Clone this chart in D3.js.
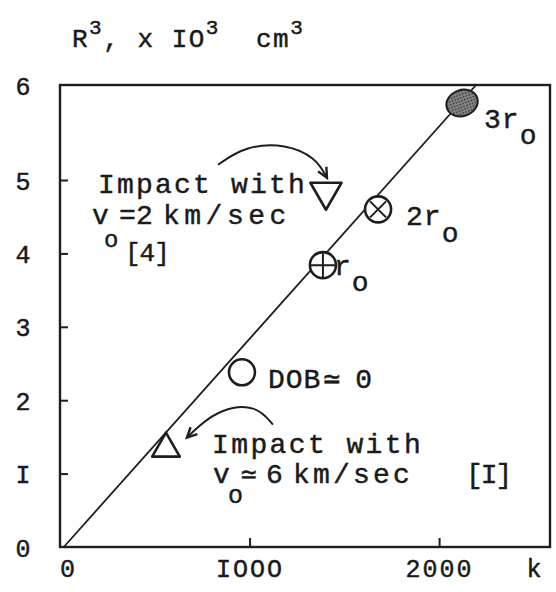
<!DOCTYPE html>
<html lang="en">
<head>
  <meta charset="UTF-8">
  <title>R3 vs k</title>
  <style>
    body { margin: 0; background: #fff; }
    text { font-family: "Liberation Mono", "DejaVu Sans Mono", monospace; fill: #1a1a1a; stroke: #1a1a1a; stroke-width: 0.45px; }
  </style>
</head>
<body>
  <script src="https://cdn.jsdelivr.net/npm/d3@7/dist/d3.min.js"></script>
  <script>
    // points (k, R^3 in 10^3 cm^3)
    let pointNames = ["impact6", "dob0", "r0", "2r0", "impact2", "3r0"];
    let kValues = [559, 960, 1387, 1678, 1403, 2121];
    let r3Values = [1.34, 2.38, 3.84, 4.60, 4.84, 5.81];
    let pointShapes = ["triangleUp", "circle", "circlePlus", "circleCross", "triangleDown", "filled"];

    // straight line through the points
    let lineK = [20, 2195];
    let lineR3 = [0, 6];

    let xTicks = [0, 1000, 2000];
    let xTickLabels = ["0", "IOOO", "2000"];
    let yTicks = [0, 1, 2, 3, 4, 5, 6];
    let yTickLabels = ["0", "I", "2", "3", "4", "5", "6"];

    let width = 556,
      height = 592;

    let svg = d3.select("body")
      .append("svg")
      .attr("width", width)
      .attr("height", height);

    // hand drawn axis: the 5-6 step is drawn taller than the others
    let x = d3.scaleLinear().domain([0, 2585]).range([60, 550]);
    let y = d3.scaleLinear().domain([0, 5, 6]).range([547, 180, 85]);

    // stipple for the filled marker
    let pat = svg.append("defs").append("pattern")
      .attr("id", "stip")
      .attr("width", 3)
      .attr("height", 3)
      .attr("patternUnits", "userSpaceOnUse");
    pat.append("rect").attr("width", 3).attr("height", 3).attr("fill", "#8a8a8a");
    pat.append("rect").attr("width", 1.5).attr("height", 1.5).attr("fill", "#2a2a2a");

    // frame
    svg.append("rect")
      .attr("x", x(0))
      .attr("y", y(6))
      .attr("width", x(2585) - x(0))
      .attr("height", y(0) - y(6))
      .attr("fill", "none")
      .attr("stroke", "#1e1e1e")
      .attr("stroke-width", 2.4);

    // y axis ticks (inside) and labels
    let yAxis = d3.axisLeft(y)
      .tickValues(yTicks)
      .tickFormat((d, i) => yTickLabels[i])
      .tickSize(-8)
      .tickPadding(26);
    let gy = svg.append("g")
      .attr("transform", "translate(" + x(0) + ",0)")
      .call(yAxis);
    gy.select(".domain").remove();
    gy.selectAll(".tick line")
      .attr("stroke", "#1e1e1e")
      .attr("stroke-width", 2)
      .attr("display", d => (d == 0 || d == 6) ? "none" : null);
    gy.selectAll(".tick text")
      .attr("font-size", 25)
      .attr("font-family", "Liberation Mono")
      .attr("fill", "#1a1a1a")
      .attr("text-anchor", "middle")
      .attr("x", -37)
      .attr("dy", "0.36em");

    // x axis ticks (inside) and labels
    let xAxis = d3.axisBottom(x)
      .tickValues(xTicks)
      .tickFormat((d, i) => xTickLabels[i])
      .tickSize(-9)
      .tickPadding(30);
    let gx = svg.append("g")
      .attr("transform", "translate(0," + y(0) + ")")
      .call(xAxis);
    gx.select(".domain").remove();
    gx.selectAll(".tick line")
      .attr("stroke", "#1e1e1e")
      .attr("stroke-width", 2)
      .attr("display", d => d == 0 ? "none" : null);
    gx.selectAll(".tick text")
      .attr("font-size", 25)
      .attr("font-family", "Liberation Mono")
      .attr("fill", "#1a1a1a")
      .attr("letter-spacing", 2)
      .attr("y", 30)
      .attr("dy", 0)
      .attr("dx", d => d == 0 ? 8 : 0);

    svg.append("text")
      .attr("x", x(2585) - 16)
      .attr("y", y(0) + 30)
      .attr("font-size", 25)
      .attr("text-anchor", "middle")
      .text("k");

    // axis title
    let title = svg.append("text")
      .attr("x", 72)
      .attr("y", 47)
      .attr("font-size", 26)
      .attr("letter-spacing", 1.5);
    title.append("tspan").text("R");
    title.append("tspan").attr("dy", -13).attr("font-size", 21).text("3");
    title.append("tspan").attr("dy", 13).text(", x IO");
    title.append("tspan").attr("dy", -13).attr("font-size", 21).text("3");
    title.append("tspan").attr("dy", 13).attr("x", 256).text("cm");
    title.append("tspan").attr("dy", -13).attr("font-size", 21).text("3");

    // fitted line
    let line = d3.line()
      .x(d => x(d[0]))
      .y(d => y(d[1]));
    svg.append("path")
      .datum(lineK.map((k, i) => [k, lineR3[i]]))
      .attr("d", line)
      .attr("fill", "none")
      .attr("stroke", "#1e1e1e")
      .attr("stroke-width", 1.8);

    // markers
    let points = pointNames.map((n, i) => ({ name: n, k: kValues[i], r3: r3Values[i], shape: pointShapes[i] }));
    let marks = svg.selectAll("g.mark")
      .data(points)
      .enter()
      .append("g")
      .attr("class", "mark")
      .attr("transform", d => "translate(" + x(d.k) + "," + y(d.r3) + ")");

    marks.each(function(d) {
      let g = d3.select(this);
      if (d.shape == "triangleUp" || d.shape == "triangleDown") {
        g.append("path")
          .attr("d", d3.symbol().type(d3.symbolTriangle).size(d.shape == "triangleUp" ? 330 : 420)())
          .attr("transform", d.shape == "triangleDown" ? "rotate(180)" : null)
          .attr("fill", "#fff")
          .attr("stroke", "#1e1e1e")
          .attr("stroke-width", 2.6)
          .attr("stroke-linejoin", "round");
      } else if (d.shape == "filled") {
        g.append("ellipse")
          .attr("rx", 16)
          .attr("ry", 13)
          .attr("transform", "rotate(-20)")
          .attr("fill", "url(#stip)")
          .attr("stroke", "#1e1e1e")
          .attr("stroke-width", 2);
      } else {
        g.append("circle")
          .attr("r", 13)
          .attr("fill", "#fff")
          .attr("stroke", "#1e1e1e")
          .attr("stroke-width", 2.6);
        if (d.shape == "circlePlus") {
          g.append("path").attr("d", "M-12,0H12M0,-12V12")
            .attr("stroke", "#1e1e1e").attr("stroke-width", 2);
        }
        if (d.shape == "circleCross") {
          g.append("path").attr("d", "M-8,-8L8,8M8,-8L-8,8")
            .attr("stroke", "#1e1e1e").attr("stroke-width", 2);
        }
      }
    });

    // labels r_o, 2r_o, 3r_o next to markers
    function subLabel(px, py, main, sub, dy) {
      let t = svg.append("text")
        .attr("x", px)
        .attr("y", py)
        .attr("font-size", 28)
        .attr("letter-spacing", 1);
      t.append("tspan").text(main);
      t.append("tspan").attr("dy", dy).text(sub);
      return t;
    }
    let p = {};
    points.forEach(d => { p[d.name] = [x(d.k), y(d.r3)]; });
    subLabel(p["3r0"][0] + 22, p["3r0"][1] + 25, "3r", "o", 16);
    subLabel(p["2r0"][0] + 28, p["2r0"][1] + 16, "2r", "o", 17);
    subLabel(p["r0"][0] + 11, p["r0"][1] + 10, "r", "o", 16);

    // DOB ~ 0
    let dob = svg.append("text")
      .attr("x", p["dob0"][0] + 26)
      .attr("y", p["dob0"][1] + 16)
      .attr("font-size", 28)
      .attr("letter-spacing", 1);
    dob.append("tspan").text("DOB");
    dob.append("tspan").attr("dx", 2).text("\u2243");
    dob.append("tspan").attr("dx", 14).text("0");

    // upper note: impact with v_o = 2 km/sec [4]
    let ux = 98, uy = 193;
    let u = svg.append("text").attr("y", uy).attr("font-size", 28);
    u.append("tspan").attr("x", ux).attr("letter-spacing", 2.2).text("Impact with");
    u.append("tspan").attr("x", ux - 6).attr("dy", 31).text("v");
    u.append("tspan").attr("x", ux + 6).attr("dy", 23).attr("font-size", 24).text("o");
    u.append("tspan").attr("x", ux + 27).attr("dy", 14).attr("font-size", 26).attr("letter-spacing", -1).text("[4]");
    u.append("tspan").attr("x", ux + 21).attr("dy", -37).text("=");
    u.append("tspan").attr("x", ux + 38).text("2");
    u.append("tspan").attr("x", ux + 65).attr("letter-spacing", 4.5).text("km/sec");

    // lower note: impact with v_o = 6 km/sec [I]
    let lx = 212, ly = 453;
    let l = svg.append("text").attr("y", ly).attr("font-size", 28);
    l.append("tspan").attr("x", lx).attr("letter-spacing", 2.4).text("Impact with");
    l.append("tspan").attr("x", lx + 1).attr("dy", 30).text("v");
    l.append("tspan").attr("x", lx + 16).attr("dy", 20).attr("font-size", 25).text("o");
    l.append("tspan").attr("x", lx + 29).attr("dy", -20).attr("font-size", 26).text("\u2243");
    l.append("tspan").attr("x", lx + 54).text("6");
    l.append("tspan").attr("x", lx + 81).attr("letter-spacing", 3.2).text("km/sec");
    l.append("tspan").attr("x", lx + 254).attr("letter-spacing", -2).text("[I]");

    // curved arrows
    function arrow(pts) {
      svg.append("path")
        .attr("d", d3.line().curve(d3.curveBasis)(pts))
        .attr("fill", "none")
        .attr("stroke", "#1e1e1e")
        .attr("stroke-width", 2);
      let a = pts[pts.length - 1], b = pts[pts.length - 2];
      let ang = Math.atan2(a[1] - b[1], a[0] - b[0]);
      let s = 11, w = 0.45;
      let head = [
        [a[0] - s * Math.cos(ang - w), a[1] - s * Math.sin(ang - w)],
        a,
        [a[0] - s * Math.cos(ang + w), a[1] - s * Math.sin(ang + w)]
      ];
      svg.append("path")
        .attr("d", d3.line()(head))
        .attr("fill", "none")
        .attr("stroke", "#1e1e1e")
        .attr("stroke-width", 2.4);
    }
    let tu = p["impact2"];
    arrow([[tu[0] - 108, tu[1] - 27], [tu[0] - 80, tu[1] - 46], [tu[0] - 40, tu[1] - 48],
      [tu[0] - 10, tu[1] - 34], [tu[0] + 1, tu[1] - 14]]);
    let tl = p["impact6"];
    arrow([[tl[0] + 107, tl[1] - 24], [tl[0] + 90, tl[1] - 44], [tl[0] + 55, tl[1] - 40],
      [tl[0] + 32, tl[1] - 22], [tl[0] + 21, tl[1] - 11]]);
  </script>
</body>
</html>
